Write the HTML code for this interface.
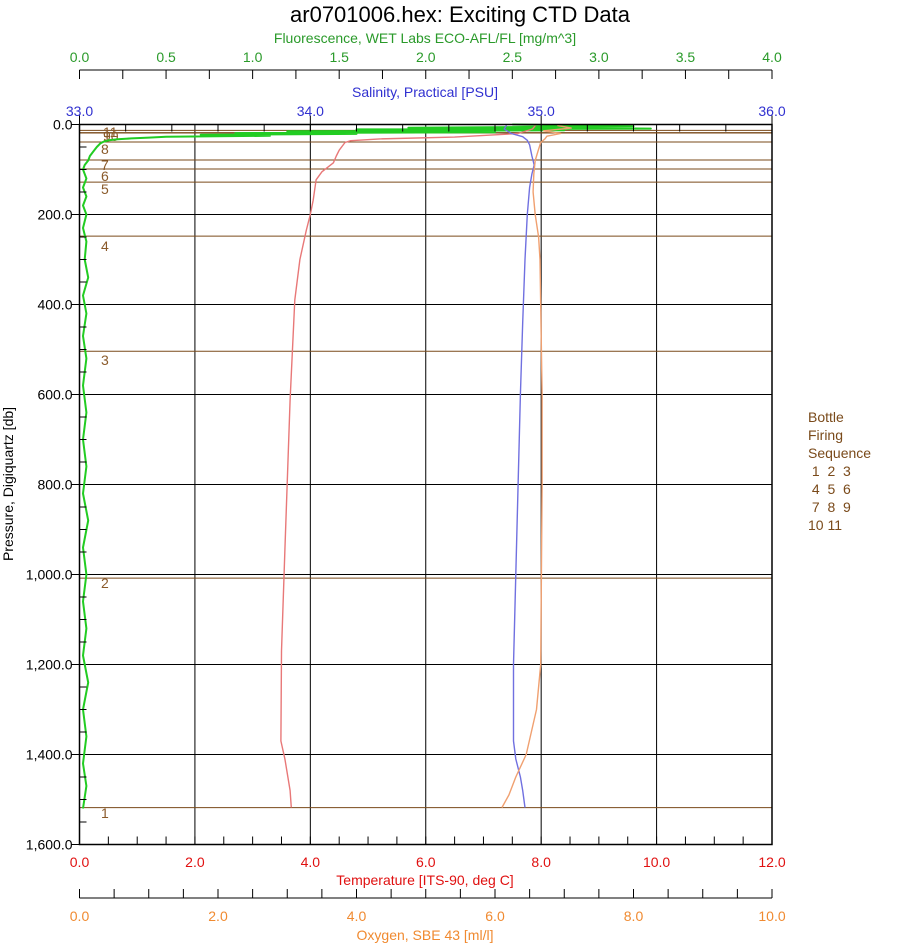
<!DOCTYPE html>
<html><head><meta charset="utf-8">
<style>
html,body{margin:0;padding:0;background:#fff;}
svg{display:block;font-family:"Liberation Sans",Arial,sans-serif;}
</style></head>
<body>
<svg id="chart" width="922" height="943" viewBox="0 0 922 943" xmlns="http://www.w3.org/2000/svg">
<rect x="0" y="0" width="922" height="943" fill="#fff"/>
<text x="460" y="22" font-size="22" text-anchor="middle" fill="#000">ar0701006.hex: Exciting CTD Data</text>
<text x="425" y="43" font-size="14" text-anchor="middle" fill="#2a9a2a">Fluorescence, WET Labs ECO-AFL/FL [mg/m^3]</text>
<text x="425" y="97" font-size="14" text-anchor="middle" fill="#3030d0">Salinity, Practical [PSU]</text>
<text x="425" y="885" font-size="14" text-anchor="middle" fill="#e01010">Temperature [ITS-90, deg C]</text>
<text x="425" y="940" font-size="14" text-anchor="middle" fill="#f08a30">Oxygen, SBE 43 [ml/l]</text>
<text x="0" y="0" font-size="14" text-anchor="middle" fill="#000" transform="translate(13,484) rotate(-90)">Pressure, Digiquartz [db]</text>
<g font-size="14" fill="#7a4a1a">
<text x="808" y="422">Bottle</text>
<text x="808" y="440">Firing</text>
<text x="808" y="458">Sequence</text>
<text x="808" y="476" xml:space="preserve"> 1  2  3</text>
<text x="808" y="494" xml:space="preserve"> 4  5  6</text>
<text x="808" y="512" xml:space="preserve"> 7  8  9</text>
<text x="808" y="530">10 11</text>
</g>
<g id="grid"></g>
<g id="bottles"></g>
<g id="series"></g>
<g id="axes"></g>
</svg>
<script>
// ---- data ----
const pressureTicks = [0,200,400,600,800,1000,1200,1400,1600];
const pressureTickLabels = ["0.0","200.0","400.0","600.0","800.0","1,000.0","1,200.0","1,400.0","1,600.0"];
const tempTickLabels = ["0.0","2.0","4.0","6.0","8.0","10.0","12.0"];
const oxyTickLabels = ["0.0","2.0","4.0","6.0","8.0","10.0"];
const fluorTickLabels = ["0.0","0.5","1.0","1.5","2.0","2.5","3.0","3.5","4.0"];
const salTickLabels = ["33.0","34.0","35.0","36.0"];

const bottlePressures = [1518,1008,504,248,128,99,79,39,19,18,13];
const bottleNames = ["1","2","3","4","5","6","7","8","9","10","11"];

const tempP = [2,10,20,28,32,36,40,57,70,85,105,123,168,200,235,300,390,612,945,1170,1370,1410,1480,1518];
const tempV = [7.9,7.85,7.6,6.5,5.2,4.7,4.6,4.5,4.45,4.4,4.2,4.1,4.05,4.0,3.93,3.82,3.73,3.65,3.56,3.5,3.49,3.56,3.65,3.67];

const salP = [2,10,20,27,35,45,70,90,110,140,200,300,440,600,800,1000,1200,1370,1410,1450,1480,1518];
const salV = [34.85,34.84,34.87,34.92,34.94,34.95,34.96,34.97,34.96,34.95,34.94,34.93,34.92,34.91,34.9,34.89,34.88,34.88,34.89,34.91,34.92,34.93];

const oxyP = [2,8,14,20,26,32,40,60,80,110,150,200,250,300,400,600,800,1000,1200,1300,1400,1450,1490,1518];
const oxyV = [6.9,7.1,6.7,6.95,6.75,6.72,6.66,6.62,6.58,6.56,6.55,6.58,6.63,6.65,6.66,6.68,6.68,6.67,6.66,6.6,6.45,6.3,6.2,6.1];

const fluorP = [0,4,7,9,11,13,15,17,19,21,23,25,27,29,31,33,35,38,42,50,60,70,80,90,100,120,140,160,180,200,230,260,300,340,380,420,470,520,580,640,700,760,820,880,940,1000,1060,1120,1180,1240,1300,1360,1420,1470,1520];
const fluorV = [2.5,3.2,1.9,3.3,1.6,2.8,1.2,2.4,0.9,1.6,0.7,1.1,0.5,0.4,0.3,0.22,0.17,0.14,0.12,0.1,0.08,0.06,0.05,0.03,0.02,0.04,0.02,0.04,0.02,0.04,0.02,0.04,0.03,0.05,0.02,0.04,0.02,0.04,0.02,0.04,0.02,0.04,0.02,0.05,0.02,0.04,0.02,0.04,0.02,0.05,0.02,0.04,0.02,0.04,0.02];

// ---- scales ----
const L=79.5, R=772, T=124.5, B=844.5;
const yP = p => T + p/1600*(B-T);
const xT = v => L + v/12*(R-L);
const xS = v => L + (v-33)/3*(R-L);
const xO = v => L + v/10*(R-L);
const xF = v => L + v/4*(R-L);
const NS="http://www.w3.org/2000/svg";
function mk(tag, attrs, parent){const e=document.createElementNS(NS,tag);for(const k in attrs)e.setAttribute(k,attrs[k]);parent.appendChild(e);return e;}
const grid=document.getElementById('grid'), axes=document.getElementById('axes'), series=document.getElementById('series'), bottles=document.getElementById('bottles');

pressureTicks.forEach((p,i)=>{
  const l=mk('line',{x1:L-8,x2:R,y1:yP(p),y2:yP(p),stroke:'#000','stroke-width':1},grid);
  
  
  const t=mk('text',{x:L-7,y:yP(p)+5,'font-size':14,'text-anchor':'end',fill:'#000'},axes);
  t.textContent=pressureTickLabels[i];
  
  
});
for(let p=50;p<1600;p+=50){ if(p%200===0)continue;
  mk('line',{x1:L,x2:L+7,y1:yP(p),y2:yP(p),stroke:'#000'},axes);
}
tempTickLabels.forEach((s,i)=>{
  const v=parseFloat(s);
  if(i>0&&i<tempTickLabels.length-1){
    const l=mk('line',{x1:xT(v),x2:xT(v),y1:T,y2:B,stroke:'#000'},grid);
    
    
  }
  const t=mk('text',{x:xT(v),y:867,'font-size':14,'text-anchor':'middle',fill:'#e01010'},axes);
  t.textContent=s;
  
  
});
for(let v=0.5;v<12;v+=0.5){ mk('line',{x1:xT(v),x2:xT(v),y1:B-8,y2:B,stroke:'#000'},axes); }
const fr=mk('rect',{x:L,y:T,width:R-L,height:B-T,fill:'none',stroke:'#000','stroke-width':1.5},axes);


for(let v=33.2;v<36;v+=0.2){ mk('line',{x1:xS(v),x2:xS(v),y1:T,y2:T+7,stroke:'#000'},axes); }
salTickLabels.forEach(s=>{
  const v=parseFloat(s);
  mk('line',{x1:xS(v),x2:xS(v),y1:T-9,y2:T,stroke:'#000'},axes);
  const t=mk('text',{x:xS(v),y:116,'font-size':14,'text-anchor':'middle',fill:'#3030d0'},axes);
  t.textContent=s;
  
  
});
mk('line',{x1:L,x2:R,y1:70,y2:70,stroke:'#000'},axes);
for(let v=0;v<=4.001;v+=0.25){ mk('line',{x1:xF(v),x2:xF(v),y1:70,y2:79,stroke:'#000'},axes); }
fluorTickLabels.forEach(s=>{
  const t=mk('text',{x:xF(parseFloat(s)),y:62,'font-size':14,'text-anchor':'middle',fill:'#2a9a2a'},axes);
  t.textContent=s;
  
  
});
mk('line',{x1:L,x2:R,y1:898,y2:898,stroke:'#000'},axes);
for(let v=0;v<=10.001;v+=0.5){ mk('line',{x1:xO(v),x2:xO(v),y1:889,y2:898,stroke:'#000'},axes); }
oxyTickLabels.forEach(s=>{
  const t=mk('text',{x:xO(parseFloat(s)),y:921,'font-size':14,'text-anchor':'middle',fill:'#f08a30'},axes);
  t.textContent=s;
  
  
});
const labelY=[818,588,365,251,194,181,170,154,141,141,137];
const labelX=[101,101,101,101,101,101,101,101,103,103,103];
bottlePressures.forEach((p,i)=>{
  const l=mk('line',{x1:L,x2:R,y1:yP(p),y2:yP(p),stroke:'#7a4a1a','stroke-width':1},bottles);
  
  
  const t=mk('text',{x:labelX[i],y:labelY[i],'font-size':14,fill:'#8a5a2a'},bottles);
  t.textContent=bottleNames[i];
  
  
});
function poly(P,V,xf,color,w,name){
  const pts=P.map((p,i)=>xf(V[i]).toFixed(1)+','+yP(p).toFixed(1)).join(' ');
  const e=mk('polyline',{points:pts,fill:'none',stroke:color,'stroke-width':w,'stroke-linejoin':'round'},series);
  
  
}
poly(fluorP,fluorV,xF,'#22cc22',2,'fluorescence-line');
poly(tempP,tempV,xT,'#e87878',1.4,'temperature-line');
poly(salP,salV,xS,'#7070e0',1.4,'salinity-line');
poly(oxyP,oxyV,xO,'#f0a070',1.4,'oxygen-line');
</script>
</body></html>
